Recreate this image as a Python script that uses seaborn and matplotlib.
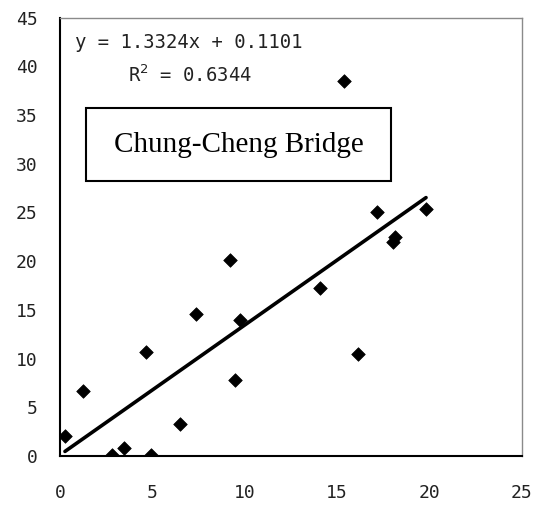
import matplotlib
matplotlib.use("Agg")
import matplotlib.pyplot as plt
from matplotlib.patches import Rectangle
import pandas as pd
import seaborn as sns

# Observed pairs for the Chung-Cheng Bridge site
x_obs = [0.27, 1.23, 2.8, 3.47, 4.66, 4.91, 6.5, 7.36, 9.2, 9.47, 9.75,
         14.08, 15.38, 16.15, 17.18, 18.05, 18.15, 19.82]
y_obs = [2.08, 6.67, 0.1, 0.82, 10.7, 0.1, 3.25, 14.54, 20.1, 7.8, 13.96,
         17.2, 38.5, 10.43, 25.07, 22.0, 22.5, 25.35]

# Linear trend reported on the chart
slope = 1.3324
intercept = 0.1101
r_squared = 0.6344

x_ticks = [0, 5, 10, 15, 20, 25]
y_ticks = [0, 5, 10, 15, 20, 25, 30, 35, 40, 45]

sns.set_theme(style="white")
plt.rcParams["font.family"] = ["DejaVu Sans Mono"]

fig = plt.figure(figsize=(5.37, 5.09), dpi=100)
ax = fig.add_axes([0.1117, 0.1041, 0.8598, 0.8615])

df = pd.DataFrame({"x": x_obs, "y": y_obs})
trend = pd.DataFrame({"x": [min(x_obs), max(x_obs)]})
trend["y"] = slope * trend["x"] + intercept

sns.lineplot(data=trend, x="x", y="y", ax=ax, color="black", linewidth=2.6)
sns.scatterplot(data=df, x="x", y="y", ax=ax, marker="D", s=48,
                color="black", edgecolor="black", linewidth=0.5, zorder=3)

ax.set_xlim(0, 25)
ax.set_ylim(0, 45)
ax.set_xticks(x_ticks)
ax.set_yticks(y_ticks)
ax.set_xticklabels([str(v) for v in x_ticks])
ax.set_yticklabels([str(v) for v in y_ticks])
ax.set_xlabel("")
ax.set_ylabel("")

ax.tick_params(axis="both", direction="in", length=6, width=1.2,
               color="black", labelsize=13, labelcolor="#222222")
ax.tick_params(axis="x", pad=20)
ax.tick_params(axis="y", pad=16)

for side in ("left", "bottom"):
    ax.spines[side].set_color("black")
    ax.spines[side].set_linewidth(1.5)
for side in ("top", "right"):
    ax.spines[side].set_color("#8a8a8a")
    ax.spines[side].set_linewidth(1.0)

ax.text(0.033, 0.942, f"y = {slope:.4f}x + {intercept:.4f}",
        transform=ax.transAxes, fontsize=13.6, color="#222222",
        ha="left", va="center")
ax.text(0.147, 0.869, f"R$^2$ = {r_squared:.4f}",
        transform=ax.transAxes, fontsize=13.6, color="#222222",
        ha="left", va="center")

# Site label in a framed box
ax.add_patch(Rectangle((0.0563, 0.627), 0.6607, 0.167, transform=ax.transAxes,
                       facecolor="white", edgecolor="black", linewidth=1.5,
                       zorder=4))
ax.text(0.3866, 0.710, "Chung-Cheng Bridge", transform=ax.transAxes,
        fontsize=21, family="Liberation Serif", color="black",
        ha="center", va="center", zorder=5)

fig.savefig("out.png", dpi=100)
